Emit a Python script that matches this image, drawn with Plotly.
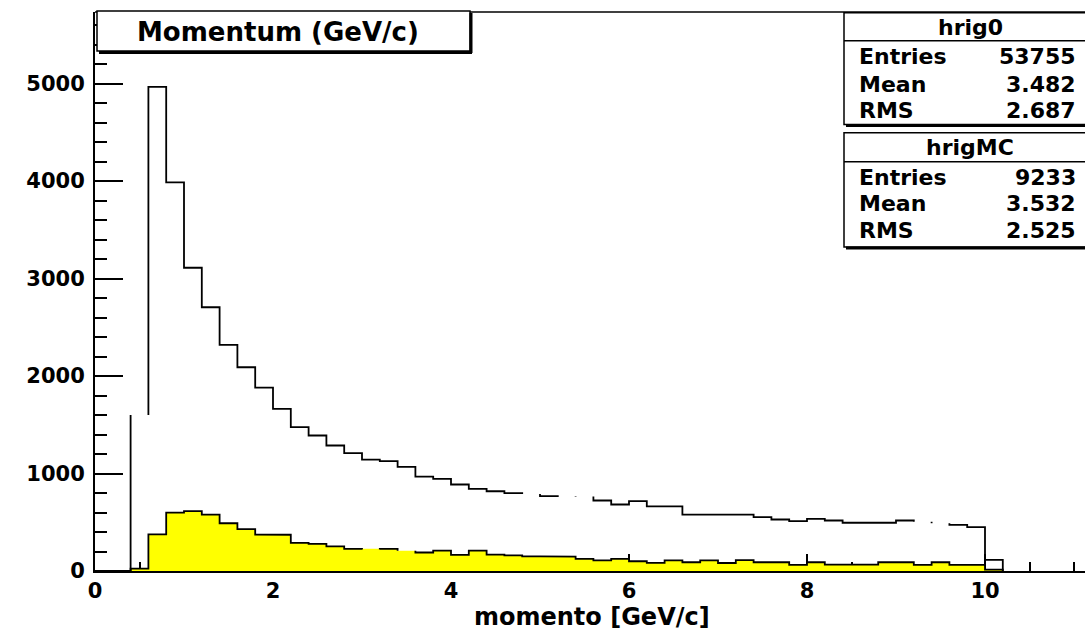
import numpy as np
import plotly.graph_objects as go

# ---- data: momentum histograms, 0.2 GeV/c bins from 0 to 10.2 ----
bin_edges = np.round(np.arange(0.0, 10.2001, 0.2), 1)

hrig0_counts = [
    0, 0, 1600, 4965, 3985, 3110, 2705, 2320, 2090, 1880,
    1663, 1475, 1390, 1287, 1208, 1143, 1126, 1068, 968, 945,
    887, 843, 818, 798, 790, 767, 760, 765, 723, 682,
    716, 662, 662, 579, 579, 579, 579, 552, 528, 511,
    535, 518, 495, 495, 495, 518, 505, 490, 474, 450,
    115,
]
hrigMC_counts = [
    0, 0, 25, 375, 598, 615, 578, 490, 430, 373,
    372, 288, 278, 252, 227, 220, 227, 208, 190, 210,
    166, 210, 168, 161, 149, 149, 147, 125, 108, 125,
    100, 83, 108, 90, 108, 82, 112, 90, 90, 63,
    90, 66, 66, 66, 90, 90, 63, 90, 63, 63,
    15,
]

# bins whose top edge the old renderer left undrawn
hrig0_open_bins = {2, 24, 26, 27, 46, 47}
hrigMC_open_bins = {15, 17}

x_tick_values = [0, 2, 4, 6, 8, 10]
y_tick_values = [0, 1000, 2000, 3000, 4000, 5000]

stat_labels = ["Entries", "Mean", "RMS"]
hrig0_stats = ["53755", "3.482", "2.687"]
hrigMC_stats = ["9233", "3.532", "2.525"]

title_text = "Momentum (GeV/c)"
x_title = "momento [GeV/c]"

# ---- page geometry (pixels) ----
W, H = 1085, 632
L, R, T, B = 95, 1085, 12, 571
X_MAX = (R - L) / 89.0      # 89 px per GeV/c
Y_MAX = (B - T) / 0.0975    # 0.0975 px per entry

FONT = "DejaVu Sans"


def px_x(px):
    return (px - L) / (R - L)


def px_y(py):
    return (B - py) / (B - T)


def step_path(edges, counts, open_bins=()):
    xs, ys = [edges[0]], [0]
    for i, v in enumerate(counts):
        xs.append(edges[i]); ys.append(v)
        if i in open_bins:
            xs += [None, edges[i + 1]]; ys += [None, v]
        else:
            xs.append(edges[i + 1]); ys.append(v)
    xs.append(edges[-1]); ys.append(0)
    return xs, ys


fig = go.Figure()

# filled MC histogram
fx, fy = step_path(bin_edges, hrigMC_counts)
fig.add_trace(go.Scatter(x=fx, y=fy, mode="lines", fill="tozeroy",
                         fillcolor="#ffff00", line=dict(width=0, color="#ffff00"),
                         hoverinfo="skip", showlegend=False))
# MC outline
mx, my = step_path(bin_edges, hrigMC_counts, hrigMC_open_bins)
fig.add_trace(go.Scatter(x=mx, y=my, mode="lines", connectgaps=False,
                         line=dict(color="black", width=1.8),
                         hoverinfo="skip", showlegend=False))
# data outline
dx, dy = step_path(bin_edges, hrig0_counts, hrig0_open_bins)
fig.add_trace(go.Scatter(x=dx, y=dy, mode="lines", connectgaps=False,
                         line=dict(color="black", width=1.8),
                         hoverinfo="skip", showlegend=False))

tick_font = dict(family=FONT, size=21, color="black", weight="bold")

fig.update_xaxes(
    range=[0, X_MAX], showgrid=False, zeroline=False,
    showline=True, linecolor="black", linewidth=2,
    tickmode="array", tickvals=x_tick_values,
    ticktext=[str(v) for v in x_tick_values],
    ticks="inside", ticklen=17, tickwidth=1.5, tickcolor="black",
    minor=dict(dtick=0.5, tick0=0, ticks="inside", ticklen=9,
               tickwidth=1.5, tickcolor="black", showgrid=False),
    tickfont=tick_font, ticklabelstandoff=0, layer="below traces",
)
fig.update_yaxes(
    range=[0, Y_MAX], showgrid=False, zeroline=False,
    showline=True, linecolor="black", linewidth=2,
    tickmode="array", tickvals=y_tick_values,
    ticktext=[str(v) for v in y_tick_values],
    ticks="inside", ticklen=28, tickwidth=1.5, tickcolor="black",
    minor=dict(dtick=200, tick0=0, ticks="inside", ticklen=12,
               tickwidth=1.5, tickcolor="black", showgrid=False),
    tickfont=tick_font, ticklabelstandoff=4, layer="below traces",
)

shapes = []
annotations = []


def line(x0, y0, x1, y1, width=1.5):
    shapes.append(dict(type="line", xref="paper", yref="paper",
                       x0=px_x(x0), y0=px_y(y0), x1=px_x(x1), y1=px_y(y1),
                       line=dict(color="black", width=width)))


def rect(x0, y0, x1, y1, width=1.5):
    shapes.append(dict(type="rect", xref="paper", yref="paper",
                       x0=px_x(x0), y0=px_y(y0), x1=px_x(x1), y1=px_y(y1),
                       fillcolor="white", line=dict(color="black", width=width)))


def text(s, px, py, anchor="center", size=22):
    annotations.append(dict(text=s, xref="paper", yref="paper",
                            x=px_x(px), y=px_y(py), xanchor=anchor, yanchor="middle",
                            showarrow=False,
                            font=dict(family=FONT, size=size, color="black", weight="bold")))


# top edge of the frame
line(L, T, R + 5, T, width=1.5)

# title pave with shadow
rect(97, 11, 470, 51)
line(99, 52.5, 472, 52.5, width=3)
line(471, 13, 471, 53, width=3)
text(title_text, 278, 32, size=26)

# stats boxes
def stats_box(top, sep, bottom, name, values, rows_y):
    rect(844, top, R + 10, bottom)
    line(846, bottom + 1, R + 10, bottom + 1, width=3)
    line(844, sep, R + 10, sep)
    text(name, 970, (top + sep) / 2 + 0.5)
    for lab, val, ry in zip(stat_labels, values, rows_y):
        text(lab, 857, ry, anchor="left")
        text(val, 1078, ry, anchor="right")


stats_box(12.7, 40.7, 124.5, "hrig0", hrig0_stats, [57, 85, 110])
stats_box(132.7, 161.7, 247, "hrigMC", hrigMC_stats, [177, 203, 230])

# x-axis title
text(x_title, 592, 617, size=24)

fig.update_layout(
    width=W, height=H,
    margin=dict(l=L, r=W - R, t=T, b=H - B, pad=0),
    paper_bgcolor="white", plot_bgcolor="white",
    shapes=shapes, annotations=annotations,
    showlegend=False,
)

fig.write_html("out.html")
